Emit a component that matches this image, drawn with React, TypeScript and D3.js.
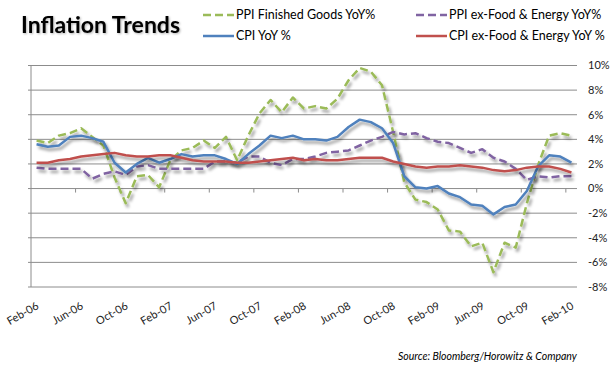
import * as d3 from "d3";

const months = [
  "Feb-06", "Mar-06", "Apr-06", "May-06", "Jun-06", "Jul-06", "Aug-06", "Sep-06", "Oct-06", "Nov-06", "Dec-06", "Jan-07",
  "Feb-07", "Mar-07", "Apr-07", "May-07", "Jun-07", "Jul-07", "Aug-07", "Sep-07", "Oct-07", "Nov-07", "Dec-07", "Jan-08",
  "Feb-08", "Mar-08", "Apr-08", "May-08", "Jun-08", "Jul-08", "Aug-08", "Sep-08", "Oct-08", "Nov-08", "Dec-08", "Jan-09",
  "Feb-09", "Mar-09", "Apr-09", "May-09", "Jun-09", "Jul-09", "Aug-09", "Sep-09", "Oct-09", "Nov-09", "Dec-09", "Jan-10",
  "Feb-10",
];

// shown every 4th month
const tickLabels = ["Feb-06", "Jun-06", "Oct-06", "Feb-07", "Jun-07", "Oct-07", "Feb-08", "Jun-08", "Oct-08", "Feb-09", "Jun-09", "Oct-09", "Feb-10"];

const yTicks = [10, 8, 6, 4, 2, 0, -2, -4, -6, -8];

const ppiFinished = [
  3.9, 3.7, 4.3, 4.5, 4.9, 4.2, 3.5, 0.9, -1.2, 1.0, 1.1, 0.1,
  2.3, 3.1, 3.3, 3.9, 3.3, 4.2, 2.3, 4.3, 6.1, 7.2, 6.2, 7.4,
  6.5, 6.7, 6.5, 7.3, 8.8, 9.8, 9.5, 8.4, 4.6, 0.5, -0.9, -1.1,
  -1.7, -3.4, -3.5, -4.7, -4.4, -6.8, -4.4, -4.8, -1.2, 1.9, 4.3, 4.5,
  4.3,
];
const ppiCore = [
  1.7, 1.6, 1.6, 1.6, 1.6, 0.8, 1.2, 1.4, 1.1, 1.8, 1.9, 1.6,
  1.6, 1.6, 1.6, 1.6, 2.2, 2.2, 2.1, 2.6, 2.6, 2.1, 1.9, 2.4,
  2.4, 2.6, 2.9, 3.0, 3.1, 3.5, 3.9, 4.2, 4.6, 4.4, 4.5, 4.1,
  3.8, 3.7, 3.3, 2.9, 3.2, 2.5, 2.2, 1.6, 0.7, 1.0, 0.9, 1.0,
  1.0,
];
const cpi = [
  3.6, 3.4, 3.5, 4.2, 4.3, 4.1, 3.8, 2.1, 1.3, 2.0, 2.5, 2.1,
  2.4, 2.8, 2.6, 2.7, 2.7, 2.4, 2.0, 2.8, 3.5, 4.3, 4.1, 4.3,
  4.0, 4.0, 3.9, 4.2, 5.0, 5.6, 5.4, 4.9, 3.7, 1.0, 0.1, 0.0,
  0.2, -0.4, -0.7, -1.3, -1.4, -2.1, -1.5, -1.3, -0.2, 1.8, 2.7, 2.6,
  2.1,
];
const cpiCore = [
  2.1, 2.1, 2.3, 2.4, 2.6, 2.7, 2.8, 2.9, 2.7, 2.6, 2.6, 2.7,
  2.7, 2.5, 2.3, 2.2, 2.2, 2.2, 2.1, 2.1, 2.2, 2.3, 2.4, 2.5,
  2.3, 2.4, 2.3, 2.3, 2.4, 2.5, 2.5, 2.5, 2.2, 2.0, 1.8, 1.7,
  1.8, 1.8, 1.9, 1.8, 1.7, 1.5, 1.4, 1.5, 1.7, 1.8, 1.8, 1.6,
  1.3,
];

const series = [
  { name: "PPI Finished Goods YoY%", values: ppiFinished, color: "#9bbb59", dash: "8,4" },
  { name: "PPI ex-Food & Energy YoY%", values: ppiCore, color: "#8064a2", dash: "8,4" },
  { name: "CPI YoY %", values: cpi, color: "#4f81bd", dash: null },
  { name: "CPI ex-Food & Energy YoY %", values: cpiCore, color: "#c0504d", dash: null },
];

const W = 610;
const H = 367;
const font = "Lato, 'Open Sans', sans-serif";

export default function App() {
  const x = d3.scaleBand().domain(months).range([31, 577]);
  const y = d3.scaleLinear().domain([-8, 10]).range([287, 65.5]);
  const bw = x.bandwidth();

  const line = d3
    .line<number>()
    .x((_, i) => (x(months[i]) as number) + bw / 2)
    .y((d) => y(d));

  const legendPos = [
    [203, 15],
    [416, 15],
    [203, 36],
    [416, 36],
  ];

  return (
    <svg width={W} height={H} style={{ position: "absolute", left: 0, top: 0, background: "#fff" }}>
      <defs>
        <filter id="shadow" x="-10%" y="-10%" width="120%" height="130%">
          <feDropShadow dx="2" dy="3" stdDeviation="1.6" floodColor="#000" floodOpacity="0.4" />
        </filter>
        <filter id="tshadow">
          <feDropShadow dx="1" dy="1" stdDeviation="0.8" floodColor="#000" floodOpacity="0.3" />
        </filter>
      </defs>

      <text x={21} y={33} fontFamily={font} fontWeight="bold" fontSize={23} fill="#000" filter="url(#tshadow)">
        Inflation Trends
      </text>

      {series.map((s, i) => (
        <g key={s.name} transform={`translate(${legendPos[i][0]},${legendPos[i][1]})`}>
          <line x1={0} x2={31} y1={0} y2={0} stroke={s.color} strokeWidth={2.5} strokeDasharray={s.dash ?? undefined} />
          <text x={33} y={0} dy="0.35em" fontFamily={font} fontSize={12.5} fill="#000">
            {s.name}
          </text>
        </g>
      ))}

      {/* gridlines + y labels */}
      {yTicks.map((t) => (
        <g key={t}>
          <line x1={28} x2={577} y1={y(t)} y2={y(t)} stroke="#8c8c8c" strokeWidth={1} />
          <text x={588} y={y(t)} dy="0.35em" fontFamily={font} fontSize={11} fill="#222">
            {t}%
          </text>
        </g>
      ))}
      <line x1={31} x2={31} y1={y(10)} y2={y(-8)} stroke="#8c8c8c" strokeWidth={1} />
      {d3.range(1, 13).map((k) => {
        const xx = 31 + k * 4 * bw;
        return <line key={k} x1={xx} x2={xx} y1={y(0)} y2={y(0) + 4} stroke="#8c8c8c" strokeWidth={1} />;
      })}

      {/* x labels */}
      {tickLabels.map((m) => {
        const cx = (x(m) as number) + bw / 2;
        return (
          <text
            key={m}
            transform={`translate(${cx + 3},${308}) rotate(-30)`}
            textAnchor="end"
            fontFamily={font}
            fontSize={11}
            fill="#222"
          >
            {m}
          </text>
        );
      })}

      {series.map((s) => (
        <path
          key={s.name}
          d={line(s.values) ?? ""}
          fill="none"
          stroke={s.color}
          strokeWidth={2.5}
          strokeDasharray={s.dash ?? undefined}
          strokeLinejoin="round"
          filter="url(#shadow)"
        />
      ))}

      <text x={398} y={360} fontFamily={font} fontStyle="italic" fontSize={10.5} fill="#000">
        Source: Bloomberg/Horowitz &amp; Company
      </text>
    </svg>
  );
}
